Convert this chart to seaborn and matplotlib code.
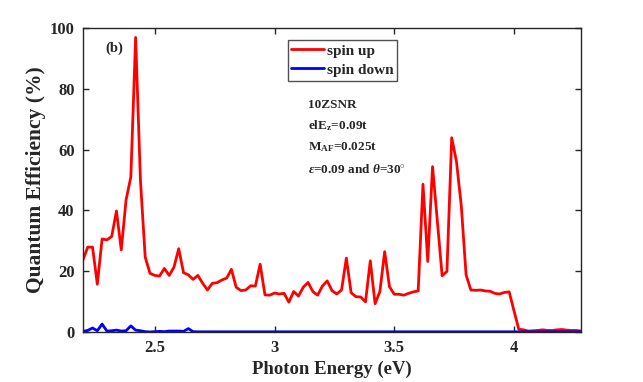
import matplotlib
matplotlib.use("Agg")
import matplotlib.pyplot as plt
import seaborn as sns
import pandas as pd

energy = [2.20, 2.22, 2.24, 2.26, 2.28, 2.30, 2.32, 2.34, 2.36, 2.38,
          2.40, 2.42, 2.44, 2.46, 2.48, 2.50, 2.52, 2.54, 2.56, 2.58,
          2.60, 2.62, 2.64, 2.66, 2.68, 2.70, 2.72, 2.74, 2.76, 2.78,
          2.80, 2.82, 2.84, 2.86, 2.88, 2.90, 2.92, 2.94, 2.96, 2.98,
          3.00, 3.02, 3.04, 3.06, 3.08, 3.10, 3.12, 3.14, 3.16, 3.18,
          3.20, 3.22, 3.24, 3.26, 3.28, 3.30, 3.32, 3.34, 3.36, 3.38,
          3.40, 3.42, 3.44, 3.46, 3.48, 3.50, 3.52, 3.54, 3.56, 3.58,
          3.60, 3.62, 3.64, 3.66, 3.68, 3.70, 3.72, 3.74, 3.76, 3.78,
          3.80, 3.82, 3.84, 3.86, 3.88, 3.90, 3.92, 3.94, 3.96, 3.98,
          4.00, 4.02, 4.04, 4.06, 4.08, 4.10, 4.12, 4.14, 4.16, 4.18,
          4.20, 4.22, 4.24, 4.26, 4.28]

spin_up = [23.7, 27.9, 27.9, 15.7, 30.6, 30.3, 31.4, 39.8, 27.0, 43.4,
           51.0, 96.9, 50.0, 24.6, 19.3, 18.6, 18.4, 20.9, 18.6, 21.3,
           27.4, 19.5, 18.8, 17.3, 18.6, 16.0, 13.8, 16.0, 16.2, 17.1,
           17.7, 20.6, 14.7, 13.6, 13.8, 15.2, 15.1, 22.3, 12.2, 12.1,
           12.8, 12.5, 12.7, 9.8, 13.3, 11.8, 14.7, 16.3, 13.3, 12.1,
           15.1, 16.8, 13.6, 12.5, 13.8, 24.3, 12.9, 11.6, 11.5, 9.9,
           23.4, 9.3, 13.3, 26.4, 14.9, 12.4, 12.4, 12.1, 12.7, 13.2,
           13.5, 48.6, 23.2, 54.4, 36.5, 18.5, 19.9, 63.9, 56.0, 41.5,
           18.8, 13.8, 13.7, 13.8, 13.5, 13.4, 12.7, 12.5, 13.0, 13.2,
           7.0, 0.9, 0.7, 0.3, 0.4, 0.5, 0.7, 0.5, 0.5, 0.7,
           0.8, 0.6, 0.5, 0.5, 0.3]

spin_down = [0.2, 0.5, 1.3, 0.4, 2.6, 0.3, 0.4, 0.6, 0.3, 0.4,
             2.0, 0.6, 0.4, 0.1, 0.0, 0.1, 0.2, 0.1, 0.3, 0.3,
             0.3, 0.2, 1.1, 0.1, 0.05, 0.05, 0.05, 0.05, 0.05, 0.05,
             0.05, 0.05, 0.05, 0.05, 0.05, 0.05, 0.05, 0.05, 0.05, 0.05,
             0.05, 0.05, 0.05, 0.05, 0.05, 0.05, 0.05, 0.05, 0.05, 0.05,
             0.05, 0.05, 0.05, 0.05, 0.05, 0.05, 0.05, 0.05, 0.05, 0.05,
             0.05, 0.05, 0.05, 0.05, 0.05, 0.05, 0.05, 0.05, 0.05, 0.05,
             0.05, 0.05, 0.05, 0.05, 0.05, 0.05, 0.05, 0.05, 0.05, 0.05,
             0.05, 0.05, 0.05, 0.05, 0.05, 0.05, 0.05, 0.05, 0.05, 0.05,
             0.05, 0.05, 0.05, 0.05, 0.05, 0.05, 0.05, 0.05, 0.05, 0.05,
             0.05, 0.05, 0.05, 0.05, 0.05]

series_labels = ["spin up", "spin down"]
x_ticks = [2.5, 3, 3.5, 4]
x_tick_labels = ["2.5", "3", "3.5", "4"]
y_ticks = [0, 20, 40, 60, 80, 100]
annotation_lines = ["10ZSNR", "elE$_{\\mathrm{z}}$=0.09t", "M$_{\\mathrm{AF}}$=0.025t",
                    "$\\epsilon$=0.09 and $\\theta$=30$^{\\circ}$"]

sns.set_style("white")
plt.rcParams["font.family"] = ["Liberation Serif", "DejaVu Serif"]
plt.rcParams["font.weight"] = "bold"
plt.rcParams["axes.labelweight"] = "bold"
plt.rcParams["mathtext.fontset"] = "custom"
plt.rcParams["mathtext.rm"] = "Liberation Serif:bold"
plt.rcParams["mathtext.it"] = "Liberation Serif:bold:italic"
plt.rcParams["mathtext.bf"] = "Liberation Serif:bold"

df = pd.DataFrame({
    "Energy": energy * 2,
    "QE": spin_up + spin_down,
    "Spin": [series_labels[0]] * len(energy) + [series_labels[1]] * len(energy),
})

fig = plt.figure(figsize=(6.43, 3.82), dpi=100)
ax = fig.add_axes([0.129, 0.131, 0.7746, 0.7957])

sns.lineplot(data=df, x="Energy", y="QE", hue="Spin",
             palette={series_labels[0]: "#ff0000", series_labels[1]: "#0000ff"},
             linewidth=2.0, ax=ax, legend=True)

ax.set_xlim(2.2, 4.28)
ax.set_ylim(0, 100)
ax.set_xticks(x_ticks)
ax.set_xticklabels(x_tick_labels)
ax.set_yticks(y_ticks)
ax.set_xlabel("Photon Energy (eV)", fontsize=13.5, fontweight="bold", color="#262626", labelpad=3)
ax.set_ylabel("Quantum Efficiency (%)", fontsize=15.5, fontweight="bold", color="#262626", labelpad=3)

ax.tick_params(axis="both", which="both", direction="in", length=4, width=1,
               top=True, right=True, bottom=True, left=True,
               labelsize=12, colors="#262626", pad=6)
for lab in ax.get_xticklabels() + ax.get_yticklabels():
    lab.set_fontweight("bold")
for sp in ax.spines.values():
    sp.set_visible(True)
    sp.set_color("#262626")
    sp.set_linewidth(1.0)

leg = ax.legend(loc="upper left", bbox_to_anchor=(0.411, 0.96), frameon=True,
                fancybox=False, edgecolor="#262626", fontsize=11,
                handlelength=2.1, handletextpad=0.2, borderpad=0.25,
                labelspacing=0.35, borderaxespad=0)
leg.get_frame().set_linewidth(1.0)
for t in leg.get_texts():
    t.set_fontweight("bold")
for h in leg.get_lines():
    h.set_linewidth(2.0)

ax.text(0.045, 0.935, "(b)", transform=ax.transAxes, fontsize=10.5, fontweight="bold",
        ha="left", va="center")

ann_y = [0.748, 0.678, 0.607, 0.53]
for txt, yy in zip(annotation_lines, ann_y):
    ax.text(0.452, yy, txt, transform=ax.transAxes, fontsize=9.5, fontweight="bold",
            ha="left", va="center")

fig.savefig("out.png", dpi=100)
